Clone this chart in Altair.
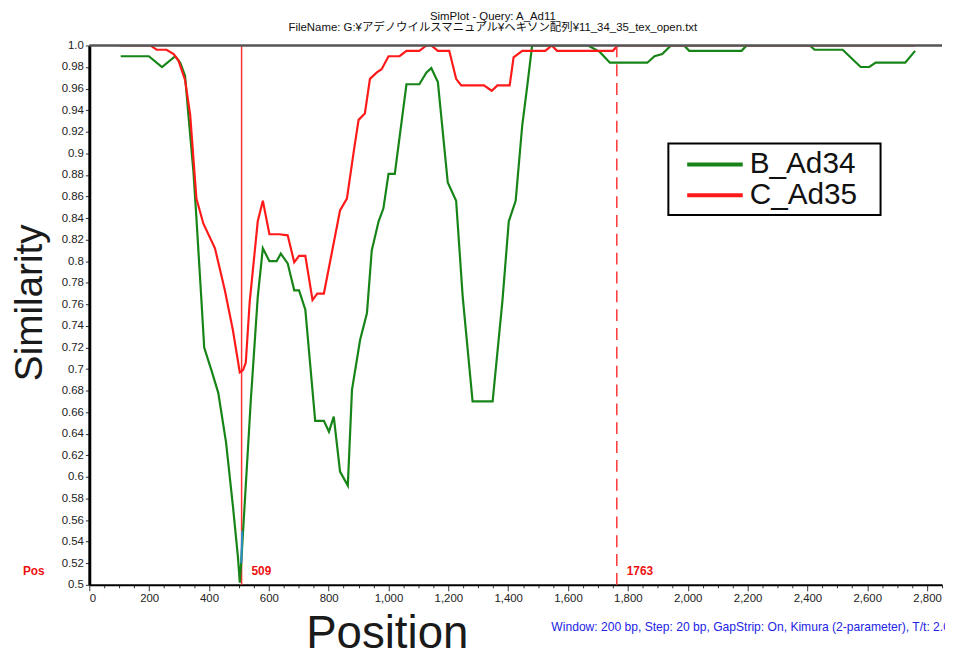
import altair as alt
import pandas as pd

# ---- data ----
series_names = ["B_Ad34", "C_Ad35"]
series_colors = ["#168416", "#ff1a1a"]

green_pos = [105, 199, 243, 287, 304, 320, 331, 348, 358, 374, 384, 408, 431, 457, 480, 497, 503, 507, 514,
             540, 563, 580, 602, 626, 640, 663, 685, 701, 722, 755, 784, 801, 817, 838, 864, 878, 905, 928,
             944, 967, 983, 1000, 1021, 1060, 1103, 1127, 1143, 1165, 1198, 1226, 1248, 1281, 1348, 1381,
             1402, 1425, 1447, 1464, 1480, 1667, 1706, 1740, 1865, 1889, 1915, 1944, 1988, 2005, 2180, 2197,
             2408, 2424, 2518, 2578, 2607, 2628, 2727, 2760]
green_val = [0.990, 0.990, 0.980, 0.990, 0.984, 0.972, 0.936, 0.883, 0.840, 0.767, 0.720, 0.699, 0.678, 0.632,
             0.573, 0.525, 0.502, 0.518, 0.550, 0.672, 0.767, 0.812, 0.800, 0.800, 0.807, 0.798, 0.773, 0.773,
             0.755, 0.652, 0.652, 0.642, 0.656, 0.605, 0.592, 0.681, 0.727, 0.752, 0.810, 0.837, 0.849, 0.881,
             0.881, 0.964, 0.964, 0.975, 0.979, 0.966, 0.873, 0.856, 0.767, 0.670, 0.670, 0.764, 0.837, 0.856,
             0.926, 0.963, 1.0, 1.0, 0.994, 0.984, 0.984, 0.990, 0.992, 1.0, 1.0, 0.995, 0.995, 1.0,
             1.0, 0.996, 0.996, 0.980, 0.980, 0.984, 0.984, 0.995]

red_pos = [100, 204, 225, 258, 282, 298, 320, 337, 358, 381, 420, 453, 480, 503, 514, 523, 536, 563, 580, 602,
           635, 663, 685, 701, 722, 746, 762, 784, 838, 861, 884, 900, 921, 938, 961, 977, 1000, 1037, 1060,
           1103, 1127, 1143, 1165, 1203, 1226, 1243, 1319, 1345, 1364, 1405, 1418, 1447, 1524, 1546, 1563,
           1750, 1766, 2760]
red_val = [1.0, 1.0, 0.996, 0.996, 0.992, 0.986, 0.968, 0.936, 0.858, 0.835, 0.812, 0.773, 0.736, 0.697, 0.699,
           0.706, 0.762, 0.837, 0.856, 0.825, 0.825, 0.824, 0.799, 0.805, 0.805, 0.764, 0.770, 0.770, 0.847,
           0.858, 0.902, 0.931, 0.937, 0.969, 0.975, 0.978, 0.990, 0.990, 0.995, 0.995, 1.0, 1.0, 0.995, 0.995,
           0.969, 0.963, 0.963, 0.958, 0.963, 0.963, 0.989, 0.995, 0.995, 1.0, 0.995, 0.995, 1.0, 1.0]

blue_pos = [508, 511]
blue_val = [0.520, 0.550]

marker_pos = [509, 1763]
marker_labels = ["509", "1763"]

x_ticks = list(range(0, 2851, 50))
y_ticks = [round(0.5 + 0.02 * i, 2) for i in range(26)]

title_lines = ["SimPlot - Query: A_Ad11",
               "FileName: G:¥アデノウイルスマニュアル¥ヘキソン配列¥11_34_35_tex_open.txt"]
note_text = "Window: 200 bp, Step: 20 bp, GapStrip: On, Kimura (2-parameter), T/t: 2.0"

# ---- tables ----
lines_df = pd.concat([
    pd.DataFrame({"pos": green_pos, "sim": green_val, "seq": series_names[0]}),
    pd.DataFrame({"pos": red_pos, "sim": red_val, "seq": series_names[1]}),
], ignore_index=True)
lines_df["order"] = range(len(lines_df))
blue_df = pd.DataFrame({"pos": blue_pos, "sim": blue_val})
marker_df = pd.DataFrame({"pos": marker_pos, "label": marker_labels})
top_df = pd.DataFrame({"sim": [1.0]})

FONT = "Liberation Sans, Arial, Noto Sans CJK JP"

x_scale = alt.Scale(domain=[0, 2850], nice=False, zero=False)
y_scale = alt.Scale(domain=[0.5, 1.0], nice=False, zero=False)

x_axis = alt.Axis(
    values=x_ticks,
    labelExpr="datum.value % 200 === 0 ? format(datum.value, ',') : ''",
    tickSize={"condition": {"test": "datum.value % 200 === 0", "value": 6}, "value": 3},
    tickColor="#333", domainColor="black", domainWidth=2, grid=False, labelOverlap=False,
    labelFont=FONT, labelFontSize=11.5, labelColor="#222", labelPadding=2,
    title="Position", titleFont=FONT, titleFontSize=46, titleFontWeight="normal",
    titleColor="#1a1a1a", titleX=300, titleY=63, titleAlign="center", titleBaseline="alphabetic",
)
y_axis = alt.Axis(
    values=y_ticks,
    labelExpr="datum.value >= 0.999 ? '1.0' : format(datum.value, '.2~f')",
    tickSize=4, tickColor="#333", domainColor="black", domainWidth=3, grid=False, labelOverlap=False,
    labelFont=FONT, labelFontSize=11.5, labelColor="#222", labelPadding=2,
    title="Similarity", titleFont=FONT, titleFontSize=39, titleFontWeight="normal",
    titleColor="#1a1a1a", titleX=-48, titleY=259, titleAngle=270, titleAlign="center",
    titleBaseline="alphabetic",
)

X = alt.X("pos:Q", scale=x_scale, axis=x_axis)
Y = alt.Y("sim:Q", scale=y_scale, axis=y_axis)

lines = alt.Chart(lines_df).mark_line(strokeWidth=2.2, clip=True).encode(
    x=X, y=Y,
    color=alt.Color("seq:N", scale=alt.Scale(domain=series_names, range=series_colors),
                    legend=alt.Legend(orient="none", legendX=584, legendY=99,
                                      title="\u00a0", titleOrient="right", titlePadding=19,
                                      titleFontSize=10,
                                      symbolType="M-2,0H2", symbolSize=784, symbolStrokeWidth=4,
                                      symbolOffset=26, labelOffset=19,
                                      labelFont=FONT, labelFontSize=30, labelColor="#111",
                                      rowPadding=0, padding=5,
                                      strokeColor="black", fillColor="white")),
    detail="seq:N",
    order="order:Q",
)

blue = alt.Chart(blue_df).mark_line(strokeWidth=2, color="#2a8fc8").encode(x=X, y=Y)

rule_solid = alt.Chart(marker_df.iloc[[0]]).mark_rule(color="#ff3030", strokeWidth=1.5).encode(x=X)
rule_dash = alt.Chart(marker_df.iloc[[1]]).mark_rule(color="#ff4040", strokeWidth=1.6,
                                                     strokeDash=[12, 7]).encode(x=X)

top_rule = alt.Chart(top_df).mark_rule(color="#555", strokeWidth=2.4).encode(y=Y)

marker_text = alt.Chart(marker_df).mark_text(
    align="left", baseline="middle", dx=10, fontSize=12, fontWeight="bold",
    font="Liberation Sans", color="#ee1111").encode(
    x=X, y=alt.value(530), text="label:N")

pos_text = alt.Chart(pd.DataFrame({"t": ["Pos"]})).mark_text(
    align="center", baseline="middle", fontSize=12, fontWeight="bold",
    font=FONT, color="#ee1111").encode(x=alt.value(-56), y=alt.value(530), text="t:N")

note = alt.Chart(pd.DataFrame({"t": [note_text]})).mark_text(
    align="left", baseline="alphabetic", fontSize=12.2, font=FONT, color="#2323e6").encode(
    x=alt.value(466), y=alt.value(591), text="t:N")

chart = alt.layer(rule_solid, lines, blue, rule_dash, top_rule, marker_text, pos_text, note).properties(
    width=860, height=544,
    autosize=alt.AutoSizeParams(type="none"),
    padding={"left": 82, "top": 35, "right": 3, "bottom": 68},
    title=alt.TitleParams(text=title_lines, fontSize=11.5, font=FONT, fontWeight="normal",
                          anchor="middle", dx=-23, offset=6, lineHeight=11, color="#111"),
).configure_view(stroke=None).configure_legend(strokeWidth=2).configure_axis(
    labelOverlap=False, labelSeparation=0)

chart.save("out.html", embed_options={"renderer": "svg", "actions": False})
